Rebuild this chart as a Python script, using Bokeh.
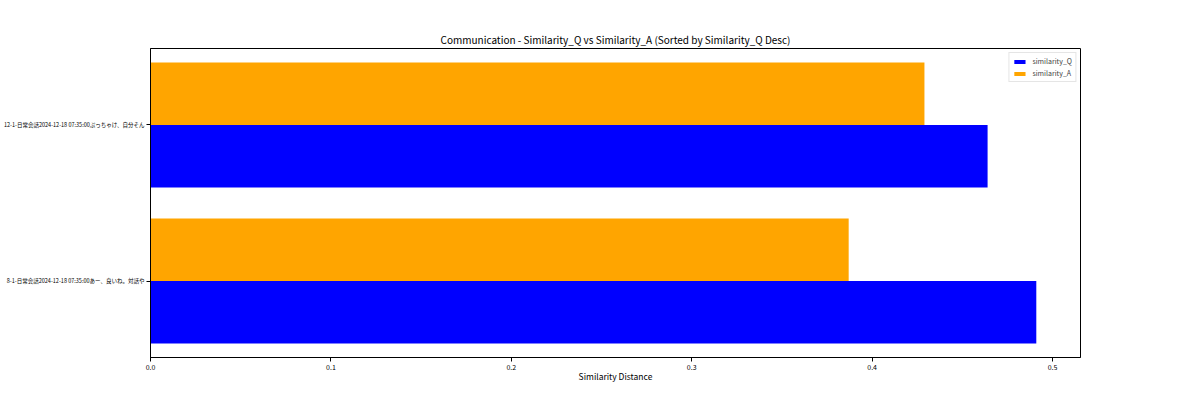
from bokeh.plotting import figure
from bokeh.models import ColumnDataSource, FixedTicker, Range1d, Legend, LegendItem
from bokeh.transform import dodge
from bokeh.embed import file_html
from bokeh.resources import INLINE

labels = [
    "8-1-日常会話2024-12-18 07:35:00あー、良いね。対話や",
    "12-1-日常会話2024-12-18 07:35:00ぷっちゃけ、自分そん",
]
similarity_q = [0.491, 0.464]
similarity_a = [0.387, 0.429]
x_ticks = [0.0, 0.1, 0.2, 0.3, 0.4, 0.5]

FONT = "Noto Sans CJK JP"

src = ColumnDataSource(dict(y=list(range(len(labels))), q=similarity_q, a=similarity_a))

p = figure(width=1184, height=384, output_backend="svg", toolbar_location=None,
           x_range=Range1d(0, 0.5155), y_range=Range1d(-0.49, 1.49),
           title="Communication - Similarity_Q vs Similarity_A (Sorted by Similarity_Q Desc)")
p.min_border_left = 142
p.min_border_right = 104
p.min_border_top = 48
p.min_border_bottom = 26

rq = p.hbar(y=dodge("y", -0.2), height=0.4, left=0, right="q", source=src,
            fill_color="blue", line_color=None)
ra = p.hbar(y=dodge("y", 0.2), height=0.4, left=0, right="a", source=src,
            fill_color="orange", line_color=None)

legend = Legend(items=[LegendItem(label="similarity_Q", renderers=[rq]),
                       LegendItem(label="similarity_A", renderers=[ra])],
                location="top_right")
legend.label_text_font = FONT
legend.label_text_font_size = "7px"
legend.glyph_width = 14
legend.glyph_height = 5
legend.label_height = 7
legend.spacing = 2
legend.padding = 3
legend.margin = 4
legend.border_line_color = "#cccccc"
legend.label_standoff = 6
p.add_layout(legend)

p.title.align = "center"
p.title.text_font = FONT
p.title.text_font_style = "normal"
p.title.text_font_size = "10px"
p.title.text_color = "black"
p.title.standoff = 4

p.xgrid.visible = False
p.ygrid.visible = False
p.outline_line_color = "black"
p.outline_line_width = 1

p.xaxis.ticker = FixedTicker(ticks=x_ticks)
p.xaxis.major_label_overrides = {t: f"{t:.1f}" for t in x_ticks}
p.yaxis.ticker = FixedTicker(ticks=list(range(len(labels))))
p.yaxis.major_label_overrides = {i: s for i, s in enumerate(labels)}
p.yaxis.major_label_text_font_size = "5.5px"
p.xaxis.major_label_text_font_size = "7px"
p.xaxis.axis_label = "Similarity Distance"
p.xaxis.axis_label_text_font = FONT
p.xaxis.axis_label_text_font_style = "normal"
p.xaxis.axis_label_text_font_size = "8.5px"
p.xaxis.axis_label_text_color = "black"
p.xaxis.axis_label_standoff = -3
for ax in (p.xaxis, p.yaxis):
    ax.major_label_text_font = FONT
    ax.major_label_text_color = "black"
    ax.major_tick_in = 0
    ax.major_tick_out = 4
    ax.minor_tick_line_color = None
    ax.axis_line_color = "black"
    ax.major_tick_line_color = "black"
    ax.major_label_standoff = 2

open("out.html", "w").write(file_html(p, INLINE))
